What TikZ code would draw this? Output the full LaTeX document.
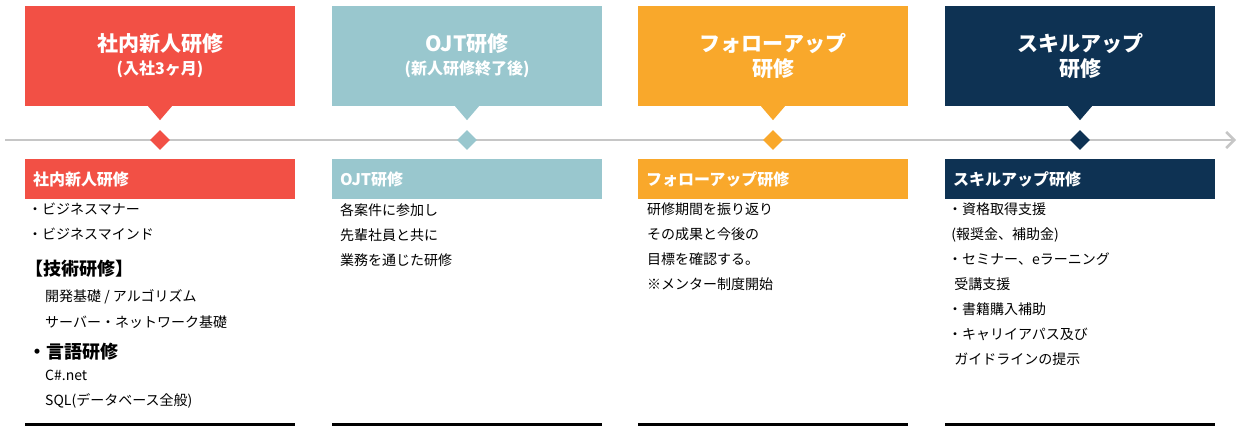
\documentclass[tikz,border=0pt]{standalone}
\usepackage{fontspec}
\setmainfont{Noto Sans CJK JP}
\newcommand\subfont{\bfseries\fontsize{16pt}{19pt}\selectfont}
\usetikzlibrary{arrows.meta, positioning, shapes.geometric}
\definecolor{cred}{HTML}{F25045}
\definecolor{cteal}{HTML}{99C7CE}
\definecolor{corange}{HTML}{F9A82B}
\definecolor{cnavy}{HTML}{0E3253}
\tikzset{
    title/.style={rectangle, minimum width=270pt, minimum height=100pt, text=white, align=center, font=\bfseries\fontsize{21pt}{25pt}\selectfont, inner sep=0pt},
    head/.style={rectangle, minimum width=270pt, minimum height=40pt, text=white, anchor=north, font=\bfseries\fontsize{16pt}{19pt}\selectfont, text width=254pt, align=left, inner sep=0pt},
    body/.style={anchor=north west, align=left, inner sep=0pt, font=\fontsize{14pt}{25pt}\selectfont},
    marker/.style={diamond, minimum size=20pt, inner sep=0pt},
}
\begin{document}
\begin{tikzpicture}[x=1pt, y=-1pt]
    \useasboundingbox (0,0) rectangle (1240,430);
    % Timeline
    \coordinate (tl_start) at (5,140);
    \coordinate (tl_end) at (1236,140);
    \draw [line width=2.5pt, gray!45, -{Straight Barb[length=8pt, width=16pt]}] (tl_start) -- (tl_end);
    % Title boxes
    \node (t1) [title, fill=cred] at (160,56) {社内新人研修\\[-2pt]{\subfont(入社3ヶ月)}};
    \node (t2) [title, fill=cteal] at (467,56) {OJT研修\\[-2pt]{\subfont(新人研修終了後)}};
    \node (t3) [title, fill=corange] at (773,56) {フォローアップ\\研修};
    \node (t4) [title, fill=cnavy] at (1080,56) {スキルアップ\\研修};
    \foreach \n/\c in {t1/cred, t2/cteal, t3/corange, t4/cnavy}
        \fill [\c] ([xshift=-12pt]\n.south) -- ([xshift=12pt]\n.south) -- ([yshift=-14pt]\n.south) -- cycle;
    % Markers
    \node (m1) [marker, fill=cred] at (160,140) {};
    \node (m2) [marker, fill=cteal] at (467,140) {};
    \node (m3) [marker, fill=corange] at (773,140) {};
    \node (m4) [marker, fill=cnavy] at (1080,140) {};
    % Headers
    \node (h1) [head, fill=cred] at (160,159) {社内新人研修};
    \node (h2) [head, fill=cteal] at (467,159) {OJT研修};
    \node (h3) [head, fill=corange] at (773,159) {フォローアップ研修};
    \node (h4) [head, fill=cnavy] at (1080,159) {スキルアップ研修};
    % Bodies
    \node (b1a) [body] at (28,203) {・ビジネスマナー\\・ビジネスマインド};
    \node (b1b) [body, font=\bfseries\fontsize{18pt}{20pt}\selectfont] at (25,260) {【技術研修】};
    \node (b1c) [body, font=\fontsize{14pt}{26pt}\selectfont] at (45,289) {開発基礎 / アルゴリズム\\サーバー・ネットワーク基礎};
    \node (b1d) [body, font=\bfseries\fontsize{18pt}{20pt}\selectfont] at (28,343) {・言語研修};
    \node (b1e) [body] at (45,370) {C\#.net\\SQL(データベース全般)};
    \node (b2) [body] at (340,203) {各案件に参加し\\先輩社員と共に\\業務を通じた研修};
    \node (b3) [body] at (647,203) {研修期間を振り返り\\その成果と今後の\\目標を確認する。\\※メンター制度開始};
    \node (b4) [body] at (948,203) {・資格取得支援\\\ (報奨金、補助金)\\・セミナー、eラーニング\\\ \ 受講支援\\・書籍購入補助\\・キャリイアパス及び\\\ \ ガイドラインの提示};
    % Bottom rules
    \foreach \n in {h1, h2, h3, h4}
        \draw [line width=3pt] ([xshift=-135pt, yshift=-225pt]\n.south) -- ([xshift=135pt, yshift=-225pt]\n.south);
\end{tikzpicture}
\end{document}
